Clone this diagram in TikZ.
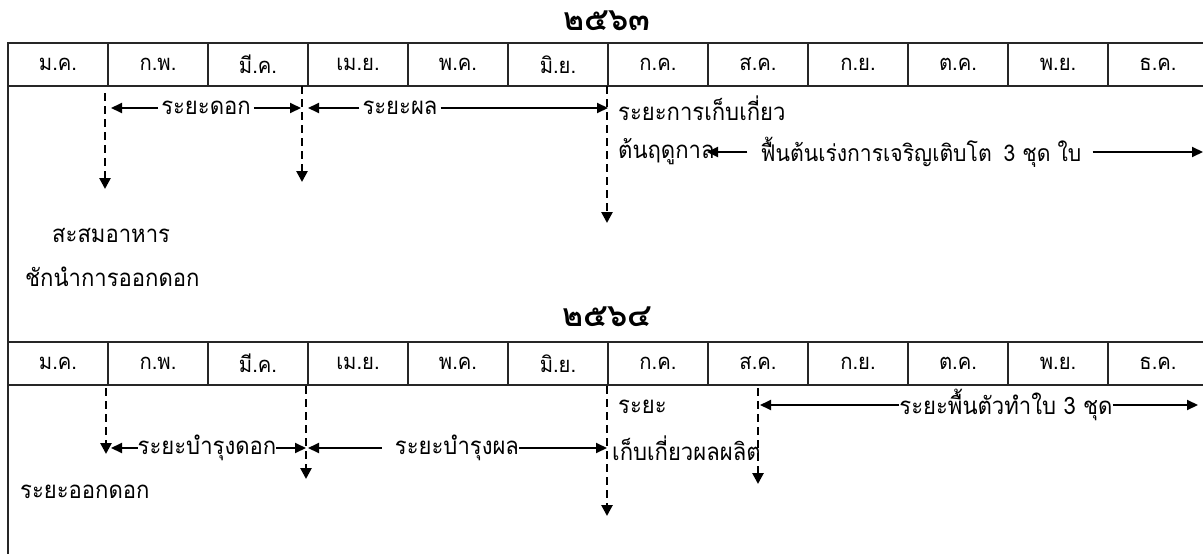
\documentclass[tikz,border=0pt]{standalone}
\usepackage{fontspec}
\setmainfont[Script=Thai,FakeStretch=0.92]{Loma}
\newfontfamily\yearfont[Script=Thai]{Loma}
\usetikzlibrary{arrows.meta}
\begin{document}
\begin{tikzpicture}[x=1pt,y=-1pt,
  cell/.style={draw=black!85, line width=1.3pt, minimum width=100pt, minimum height=43pt,
    inner sep=0pt, font=\fontsize{22}{24}\selectfont},
  lbl/.style={inner sep=3pt, font=\fontsize{24}{26}\selectfont},
  yearlbl/.style={inner sep=0pt, font=\yearfont\bfseries\fontsize{32}{34}\selectfont},
  span/.style={line width=2pt, -{Triangle[length=11pt,width=10pt]}},
  guide/.style={line width=2.6pt, dash pattern=on 8pt off 5pt,
    -{Triangle[length=11pt,width=11pt]}}]
\useasboundingbox (0,0) rectangle (1203,554);
\clip (0,0) rectangle (1203,554);

% outer frame
\draw[draw=black!85, line width=1.3pt] (8,620) -- (8,43) -- (1230,43);

% month rows
\foreach \m [count=\i] in {ม.ค.,ก.พ.,มี.ค.,เม.ย.,พ.ค.,มิ.ย.,ก.ค.,ส.ค.,ก.ย.,ต.ค.,พ.ย.,ธ.ค.} {
  \node[cell] (a\i) at ({8+100*\i-50},64.5) {\m};
  \node[cell] (b\i) at ({8+100*\i-50},363.5) {\m};
}

% years
\node[yearlbl] (y1) at (607,21) {๒๕๖๓};
\node[yearlbl] (y2) at (607,317) {๒๕๖๔};

% ---- first year ----
\coordinate (g1s) at (105,93);  \coordinate (g1e) at (105,189);
\coordinate (g2s) at (302,86);  \coordinate (g2e) at (302,182);
\coordinate (g3s) at (607,86);  \coordinate (g3e) at (607,223);
\draw[guide] (g1s) -- (g1e);
\draw[guide] (g2s) -- (g2e);
\draw[guide] (g3s) -- (g3e);

\node[lbl] (dok) at (206,108) {ระยะดอก};
\coordinate (dokL) at (111,108); \coordinate (dokR) at (301,108);
\draw[span] (dok.west) -- (dokL);
\draw[span] (dok.east) -- (dokR);

\node[lbl] (pon) at (400,108) {ระยะผล};
\coordinate (ponL) at (308,108); \coordinate (ponR) at (608,108);
\draw[span] (pon.west) -- (ponL);
\draw[span] (pon.east) -- (ponR);

\node[lbl, anchor=west] (harv) at (615,108) {ระยะการเก็บเกี่ยว};
\node[lbl, anchor=west, inner sep=0pt] (season) at (618,152) {ต้นฤดูกาล};

\node[lbl, font=\fontsize{23}{25}\selectfont] (grow) at (921,152) {ฟื้นต้นเร่งการเจริญเติบโต\hspace{0.2em} 3 ชุด ใบ};
\coordinate (growL) at (707,152); \coordinate (growR) at (1203,152);
\draw[span] ([xshift=-10pt]grow.west) -- (growL);
\draw[span] ([xshift=8pt]grow.east) -- (growR);

\node[lbl, anchor=west] (store) at (49,235) {สะสมอาหาร};
\node[lbl, anchor=west] (induce) at (22,277) {ชักนำการออกดอก};

% ---- second year ----
\coordinate (h1s) at (106,388); \coordinate (h1e) at (106,454);
\coordinate (h2s) at (306,386); \coordinate (h2e) at (306,479);
\coordinate (h3s) at (607,386); \coordinate (h3e) at (607,516);
\coordinate (h4s) at (758,388); \coordinate (h4e) at (758,484);
\draw[guide] (h1s) -- (h1e);
\draw[guide] (h2s) -- (h2e);
\draw[guide] (h3s) -- (h3e);
\draw[guide] (h4s) -- (h4e);

\node[lbl, inner sep=0pt] (care) at (207,448) {ระยะบำรุงดอก};
\coordinate (careL) at (111,448); \coordinate (careR) at (306,448);
\draw[span] (care.west) -- (careL);
\draw[span] (care.east) -- (careR);

\node[lbl, inner sep=0pt] (fruit) at (457,448) {ระยะบำรุงผล};
\coordinate (fruitL) at (308,448); \coordinate (fruitR) at (607,448);
\draw[span] ([xshift=-13pt]fruit.west) -- (fruitL);
\draw[span] (fruit.east) -- (fruitR);

\node[lbl, anchor=west] (ph1) at (615,407) {ระยะ};
\node[lbl, anchor=west] (ph2) at (609,448) {เก็บเกี่ยวผลผลิต};

\node[lbl, inner sep=0pt] (leaf) at (1006,405) {ระยะพื้นตัวทำใบ 3 ชุด};
\coordinate (leafL) at (760,405); \coordinate (leafR) at (1198,405);
\draw[span] (leaf.west) -- (leafL);
\draw[span] (leaf.east) -- (leafR);

\node[lbl, anchor=west] (bloom) at (17,492) {ระยะออกดอก};
\end{tikzpicture}
\end{document}
